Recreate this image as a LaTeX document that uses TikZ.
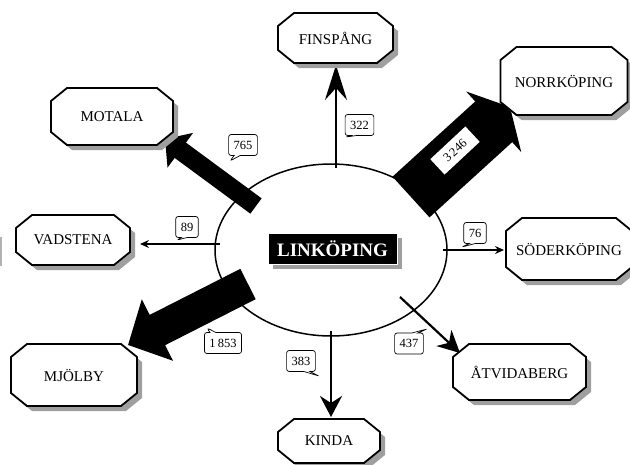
\documentclass[tikz,border=0pt]{standalone}
\usepackage{fontspec}
\setmainfont{Liberation Serif}
\usetikzlibrary{shapes.geometric,shapes.callouts,shadows,arrows.meta}
\tikzstyle{townline} = [draw, line width=1.8pt, fill=white]
\tikzstyle{townshade} = [fill=gray!75]
\tikzstyle{townname} = [inner sep=0pt, font=\fontsize{15}{18}\selectfont]
\tikzstyle{count} = [rectangle callout, draw, line width=0.7pt, rounded corners=2.5pt, fill=white, inner xsep=5pt, inner ysep=3pt, minimum height=21pt, callout pointer width=6pt, font=\fontsize{12.5}{14}\selectfont]
\tikzstyle{flow} = [draw, line width=2.2pt]
\tikzstyle{small} = [draw, line width=1.5pt, -{Stealth[length=9pt,width=8pt,inset=3pt]}]
% octagon of width #1 and height #2 round the origin
\newcommand{\octagon}[2]{({-#1/2+16},{-#2/2}) -- ({#1/2-16},{-#2/2}) -- ({#1/2},{-#2/2+13}) -- ({#1/2},{#2/2-13}) -- ({#1/2-16},{#2/2}) -- ({-#1/2+16},{#2/2}) -- ({-#1/2},{#2/2-13}) -- ({-#1/2},{-#2/2+13}) -- cycle}
% name, x, y, width, height, text
\newcommand{\town}[6]{%
  \path[townshade, shift={(#2+5,#3+5)}] \octagon{#4}{#5};
  \path[townline, shift={(#2,#3)}] \octagon{#4}{#5};
  \node[townname, minimum width=#4pt, minimum height=#5pt] (#1) at (#2,#3) {#6};}

\begin{document}
\begin{tikzpicture}[x=1pt, y=-1pt]
      \useasboundingbox (0,0) rectangle (630,464);
      \fill[gray!60] (0,237) rectangle (2,266);

      % centre
      \node[ellipse, draw, line width=1.5pt, minimum width=232pt, minimum height=172pt] (link) at (331,250) {};

      % start and end points of the flows
      \coordinate (m0) at (256,206);  \coordinate (m1) at (165,139);
      \coordinate (n0) at (411,197);  \coordinate (n1) at (510,107);
      \coordinate (j0) at (248,284);  \coordinate (j1) at (128,345);
      \coordinate (f0) at (336,168);  \coordinate (f1) at (336,65);
      \coordinate (k0) at (331,331);  \coordinate (k1) at (331,417);
      \coordinate (a0) at (400,297);  \coordinate (a1) at (460,353);
      \coordinate (v0) at (220,244);  \coordinate (v1) at (140,244);
      \coordinate (s0) at (443,250);  \coordinate (s1) at (504,250);

      \draw[line width=19pt, -{Triangle[length=19pt,width=42pt]}] (m0) -- (m1);
      \draw[line width=55pt, -{Triangle[length=22pt,width=81pt]}] (n0) -- (n1);
      \draw[line width=34pt, -{Triangle[length=33pt,width=67pt]}] (j0) -- (j1);
      \draw[flow, -{Stealth[length=35pt,width=22pt,inset=12pt]}] (f0) -- (f1);
      \draw[flow, line width=2.5pt, -{Stealth[length=21pt,width=22pt,inset=7pt]}] (k0) -- (k1);
      \draw[flow, -{Stealth[length=22pt,width=22pt,inset=7pt]}] (a0) -- (a1);
      \draw[small] (v0) -- (v1);
      \draw[small] (s0) -- (s1);

      \node[fill=black, text=white, draw=white, line width=1pt, minimum width=129pt, minimum height=31pt, inner sep=0pt, font=\bfseries\fontsize{19}{22}\selectfont, drop shadow={shadow xshift=5pt, shadow yshift=-5pt, fill=gray!75, opacity=1}] (linkname) at (332.5,248.5) {LINKÖPING};

      % towns
      \town{motala}{112}{116.5}{122}{57}{MOTALA}
      \town{finspang}{335.5}{38}{115}{50}{FINSPÅNG}
      \town{norrkoping}{564}{81}{127}{68}{NORRKÖPING}
      \town{vadstena}{73}{240}{114}{50}{VADSTENA}
      \town{soderkoping}{569}{249}{126}{62}{SÖDERKÖPING}
      \town{mjolby}{74}{375}{126}{62}{MJÖLBY}
      \town{kinda}{329}{441}{102}{44}{KINDA}
      \town{atvidaberg}{519.5}{372}{133}{56}{ÅTVIDABERG}

      % numbers
      \node[count, callout absolute pointer={(230,161)}] (c765) at (243,145) {765};
      \node[count, callout absolute pointer={(346,137)}] (c322) at (359.5,125) {322};
      \node[count, callout absolute pointer={(177,240)}] (c89) at (187,227) {89};
      \node[count, callout absolute pointer={(462,247)}] (c76) at (475,233) {76};
      \node[count, callout absolute pointer={(207,328)}] (c1853) at (223,343) {1\,853};
      \node[count, callout absolute pointer={(319,376)}] (c383) at (301,361) {383};
      \node[count, callout absolute pointer={(427,329)}] (c437) at (409,343.5) {437};
      \node[fill=white, rotate=43, inner xsep=5pt, inner ysep=3pt, minimum width=48pt, minimum height=21pt, font=\fontsize{12.5}{14}\selectfont] (c3246) at (455,150.5) {3\,246};
    \end{tikzpicture}
\end{document}
